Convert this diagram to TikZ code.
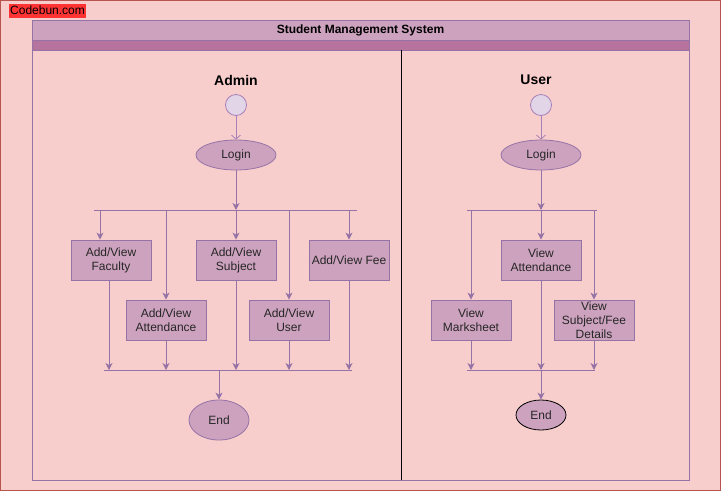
\documentclass[tikz,border=0pt]{standalone}
\usepackage{fontspec}
\setmainfont{Liberation Sans}
\usetikzlibrary{arrows.meta,calc}
\definecolor{bg}{HTML}{F8CECC}
\definecolor{bgline}{HTML}{B85450}
\definecolor{pfill}{HTML}{CDA2BE}
\definecolor{pline}{HTML}{9673A6}
\definecolor{pdark}{HTML}{B5739D}
\definecolor{sfill}{HTML}{E1D5E7}
\definecolor{sline}{HTML}{A680B8}
\definecolor{cbred}{HTML}{FF3333}
\tikzset{
  txt/.style={font=\fontsize{12}{14}\selectfont, text=black!85, align=center, inner sep=0pt},
  act/.style={txt, draw=pline, fill=pfill, line width=0.8pt, minimum width=80pt, minimum height=40pt},
  oval/.style={txt, draw=pline, fill=pfill, line width=0.8pt, ellipse},
  startc/.style={circle, draw=sline, fill=sfill, line width=0.8pt, minimum size=21pt, inner sep=0pt},
  bar/.style={draw=pline, line width=1pt},
  arr/.style={draw=pline, line width=1pt, -{Stealth[length=7pt,width=7pt,inset=2pt]}},
  oarr/.style={draw=sline, line width=0.8pt, -{Straight Barb[length=4pt,width=9pt]}},
  lanetitle/.style={font=\bfseries\fontsize{14}{16}\selectfont, inner sep=0pt}
}
\usetikzlibrary{shapes.geometric}
\begin{document}
\begin{tikzpicture}[x=1pt,y=-1pt]
\useasboundingbox (0,0) rectangle (721,491);
% background
\draw[fill=bg, draw=bgline, line width=1pt] (0.5,0.5) rectangle (720.5,490.5);
\node[fill=cbred, inner xsep=1pt, inner ysep=1pt, font=\fontsize{12}{14}\selectfont, anchor=west, minimum height=14pt] (cb) at (9,10.5) {Codebun.com};
% pool
\draw[fill=pfill, draw=pline, line width=0.8pt] (32,20) rectangle (689,40);
\draw[fill=pdark, draw=pline, line width=0.8pt] (32,40) rectangle (689,50);
\draw[draw=pline, line width=0.8pt] (32,50) rectangle (689,480);
\node[font=\bfseries\fontsize{12}{14}\selectfont] (title) at (360.5,30.5) {Student Management System};
\draw[black, line width=0.9pt] (401,50) -- (401,480);

% ---------- Admin lane
\node[lanetitle] (admin) at (236,80) {Admin};
\node[startc] (as) at (236,105) {};
\node[oval, minimum width=80pt, minimum height=30pt] (alog) at (236,155) {Login};
\coordinate (af1) at (94,210); \coordinate (af2) at (357,210);
\draw[bar] (af1) -- (af2);
\draw[oarr] (as) -- (alog);
\draw[arr] (alog) -- (alog |- af1);

\node[act] (fac) at (111,260) {Add/View\\Faculty};
\node[act] (att) at (166,320) {Add/View\\Attendance};
\node[act] (sub) at (236,260) {Add/View\\Subject};
\node[act] (usr) at (289,320) {Add/View\\User};
\node[act] (fee) at (349,260) {Add/View Fee};

\coordinate (t1) at (100,210); \coordinate (t2) at (166,210); \coordinate (t3) at (236,210);
\coordinate (t4) at (289,210); \coordinate (t5) at (349,210);
\draw[arr] (t1) -- (t1 |- fac.north);
\draw[arr] (t2) -- (att);
\draw[arr] (t3) -- (sub);
\draw[arr] (t4) -- (usr);
\draw[arr] (t5) -- (fee);

\coordinate (aj1) at (104,370); \coordinate (aj2) at (352,370);
\draw[bar] (aj1) -- (aj2);
\coordinate (b1) at (109,370);
\draw[arr] (b1 |- fac.south) -- (b1);
\draw[arr] (att) -- (att |- aj1);
\draw[arr] (sub) -- (sub |- aj1);
\draw[arr] (usr) -- (usr |- aj1);
\draw[arr] (fee) -- (fee |- aj1);

\node[oval, minimum width=60pt, minimum height=40pt] (aend) at (219,420) {End};
\coordinate (aj3) at (219,370);
\draw[arr] (aj3) -- (aend);

% ---------- User lane
\node[lanetitle] (user) at (536,80) {User};
\node[startc] (us) at (541,105) {};
\node[oval, minimum width=80pt, minimum height=30pt] (ulog) at (541,155) {Login};
\coordinate (uf1) at (467,210); \coordinate (uf2) at (597,210);
\draw[bar] (uf1) -- (uf2);
\draw[oarr] (us) -- (ulog);
\draw[arr] (ulog) -- (ulog |- uf1);

\node[act] (vatt) at (541,260) {View\\Attendance};
\node[act] (vmark) at (471,320) {View\\Marksheet};
\node[act] (vsub) at (594,320) {View\\Subject/Fee\\Details};

\coordinate (u1) at (471,210); \coordinate (u3) at (594,210);
\draw[arr] (u1) -- (vmark);
\draw[arr] (ulog |- uf1) -- (vatt);
\draw[arr] (u3) -- (vsub);

\coordinate (uj1) at (467,370); \coordinate (uj2) at (595,370);
\draw[bar] (uj1) -- (uj2);
\draw[arr] (vmark) -- (vmark |- uj1);
\draw[arr] (vatt) -- (vatt |- uj1);
\draw[arr] (vsub) -- (vsub |- uj1);

\node[txt, ellipse, draw=black, fill=pfill, line width=0.8pt, minimum width=50pt, minimum height=30pt] (uend) at (541,415) {End};
\draw[arr] (vatt |- uj1) -- (uend);
\end{tikzpicture}
\end{document}
